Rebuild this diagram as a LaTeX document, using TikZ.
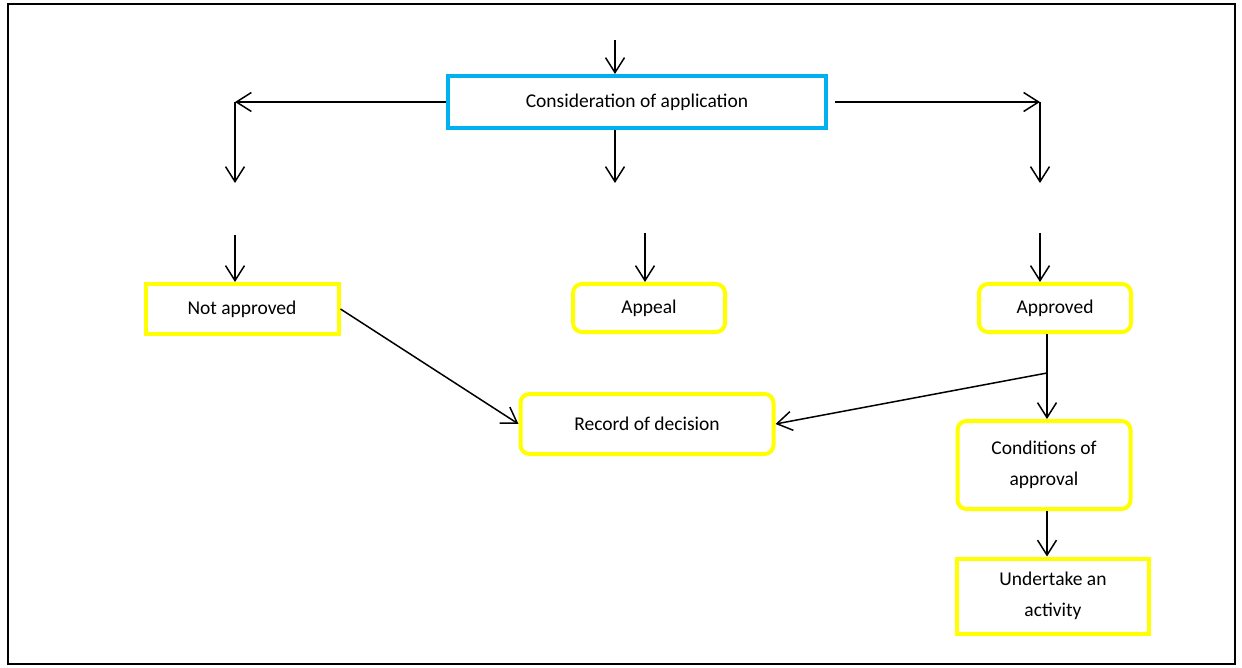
\documentclass[tikz,border=0pt]{standalone}
\usepackage{fontspec}
\setmainfont{Carlito}
\usetikzlibrary{arrows.meta}
\definecolor{boxblue}{RGB}{0,176,240}
\definecolor{boxyellow}{RGB}{255,255,0}
\begin{document}
\begin{tikzpicture}[x=1pt, y=-1pt,
    font=\fontsize{19.5}{31}\selectfont,
    arr/.style={-{Straight Barb[length=15pt,width=19pt,line width=1.5pt]}, line width=1.5pt},
    bbox/.style={draw=boxblue, line width=4pt, fill=white, align=center, inner sep=0pt},
    ybox/.style={draw=boxyellow, line width=4pt, fill=white, align=center, inner sep=0pt},
    rbox/.style={ybox, rounded corners=9pt}]
    \useasboundingbox (0,0) rectangle (1242,668);
    \draw[line width=2pt] (8,4) rectangle (1235,664);
    % boxes
    \node[bbox, minimum width=378pt, minimum height=52pt] (consid) at (637,102) {Consideration of application};
    \node[ybox, minimum width=193pt, minimum height=50pt] (notapp) at (242,309) {Not approved};
    \node[rbox, minimum width=152pt, minimum height=48pt] (appeal) at (649,308) {Appeal};
    \node[rbox, minimum width=152pt, minimum height=48pt] (approved) at (1055,308) {Approved};
    \node[rbox, minimum width=253pt, minimum height=60pt] (record) at (647,424) {Record of decision};
    \node[rbox, minimum width=173pt, minimum height=88pt] (cond) at (1044,465) {Conditions of\\approval};
    \node[ybox, minimum width=192pt, minimum height=75pt] (undertake) at (1053,596) {Undertake an\\activity};
    % first row of arrows
    \coordinate (topin) at (615,40);
    \draw[arr] (topin) -- (topin |- consid.north);
    \coordinate (lturn) at (235,102);
    \coordinate (lend) at (235,183);
    \draw[arr] (consid.west) -- (lturn);
    \draw[arr] (lturn) -- (lend);
    \coordinate (mend) at (615,183);
    \draw[arr] (mend |- consid.south) -- (mend);
    \coordinate (rstart) at (835,102);
    \coordinate (rturn) at (1040,102);
    \coordinate (rend) at (1040,183);
    \draw[arr] (rstart) -- (rturn);
    \draw[arr] (rturn) -- (rend);
    % second row of arrows
    \coordinate (lbeg) at (235,235);
    \coordinate (mbeg) at (645,233);
    \coordinate (rbeg) at (1040,233);
    \draw[arr] (lbeg) -- (lbeg |- notapp.north);
    \draw[arr] (mbeg) -- (mbeg |- appeal.north);
    \draw[arr] (rbeg) -- (rbeg |- approved.north);
    % decisions
    \draw[arr] (notapp.east) -- (record.west);
    \coordinate (branch) at (1047,373);
    \draw[line width=1.5pt] (branch |- approved.south) -- (branch);
    \draw[arr] (branch) -- (branch |- cond.north);
    \draw[arr] (branch) -- (record.east);
    \draw[arr] (branch |- cond.south) -- (branch |- undertake.north);
\end{tikzpicture}
\end{document}
